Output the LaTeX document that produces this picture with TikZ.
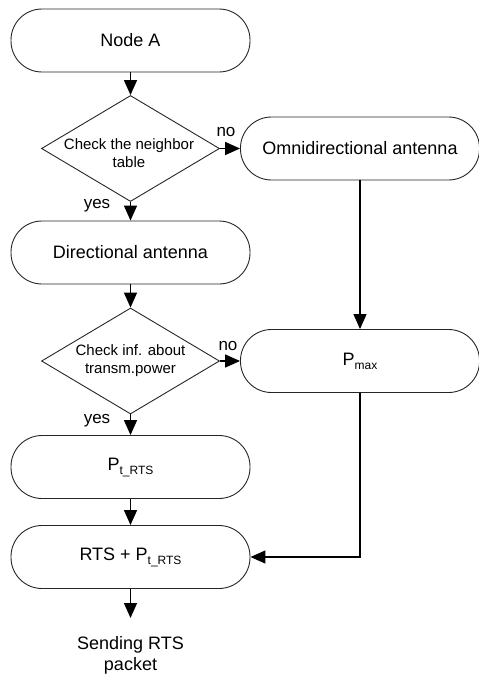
\documentclass[tikz,border=0pt]{standalone}
\usepackage{fontspec}
\setmainfont{Liberation Sans}
\usetikzlibrary{arrows.meta,shapes.geometric}
\newcommand\lowsub[1]{\raisebox{-4pt}{\fontsize{12}{12}\selectfont #1}}
\begin{document}
\begin{tikzpicture}[x=1pt,y=-1pt,
  term/.style={draw=black!85, line width=0.9pt, rounded corners=31pt, minimum width=239pt, minimum height=63pt, inner sep=0pt, font=\fontsize{18}{21}\selectfont, align=center},
  decision/.style={draw=black!85, line width=0.9pt, shape=diamond, minimum width=178pt, minimum height=106pt, inner sep=0pt},
  dtext/.style={font=\fontsize{15}{18}\selectfont, align=center, inner sep=0pt},
  lab/.style={font=\fontsize{17}{20}\selectfont, inner sep=0pt},
  arr/.style={line width=1.4pt, -{Triangle[length=15pt,width=13pt]}}]
\useasboundingbox (0,0) rectangle (479,675);

\node[term] (a) at (130.5,40.5) {Node A};
\node[decision] (d1) at (130.5,148.5) {};
\node[dtext] (t1) at (129,153) {Check the neighbor\\table};
\node[term] (omni) at (360,148.5) {Omnidirectional antenna};
\node[term] (dir) at (130.5,252.5) {Directional antenna};
\node[decision] (d2) at (130.5,361) {};
\node[dtext] (t2) at (130.5,361) {Check inf. about\\transm.power};
\node[term] (pmax) at (360,361) {P\lowsub{max}};
\node[term] (pt) at (130.5,467) {P\lowsub{t\_RTS}};
\node[term] (rts) at (130.5,557) {RTS + P\lowsub{t\_RTS}};
\node[font=\fontsize{18}{21}\selectfont, align=center, inner sep=0pt, anchor=north] (send) at (130.5,636) {Sending RTS\\packet};

\node[lab] (no1) at (226,132) {no};
\node[lab] (no2) at (228,346) {no};
\node[lab] (yes1) at (97,206) {yes};
\node[lab] (yes2) at (97,421) {yes};

\draw[arr] (a) -- (d1);
\draw[arr] (d1) -- (omni);
\draw[arr] (d1) -- (dir);
\draw[arr] (dir) -- (d2);
\draw[arr] (d2) -- (pmax);
\draw[arr] (d2) -- (pt);
\draw[arr] (pt) -- (rts);
\draw[arr] (omni) -- (pmax);
\draw[arr] (pmax.south) |- (rts.east);
\draw[arr, shorten >=18pt] (rts.south) -- (send.north);
\end{tikzpicture}
\end{document}
